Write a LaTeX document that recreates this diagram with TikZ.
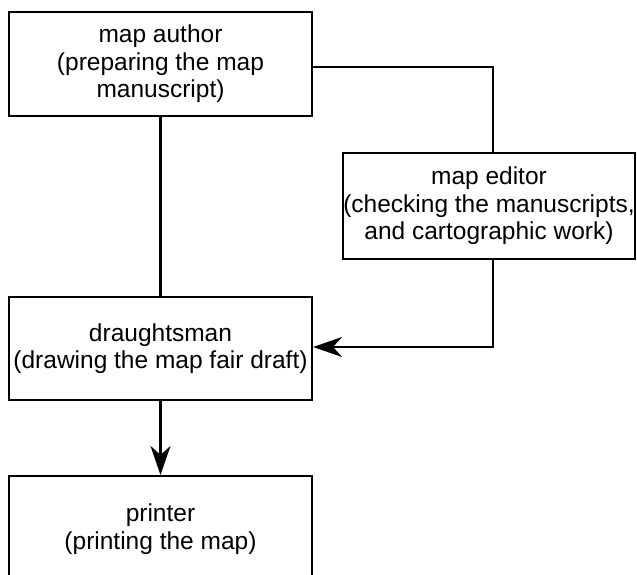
\documentclass[tikz,border=0pt]{standalone}
\usepackage{fontspec}
\setmainfont{Liberation Sans}
\usetikzlibrary{arrows.meta}
\begin{document}
\begin{tikzpicture}[x=1pt,y=-1pt,
  box/.style={draw, line width=2.1pt, rectangle, align=center,
    font=\fontsize{24.5}{27.5}\selectfont, inner sep=0pt},
  conn/.style={line width=2.1pt},
  arr/.style={conn, -{Stealth[length=29pt,width=20pt,inset=9pt]}}]
\useasboundingbox (0,0) rectangle (637,575);
\clip (0,0) rectangle (637,575);
\node[box, minimum width=303pt, minimum height=104pt] (a) at (160.5,64)
  {map author\\(preparing the map\\manuscript)};
\node[box, minimum width=292pt, minimum height=106pt] (b) at (489,206)
  {map editor\\(checking the manuscripts,\\and cartographic work)};
\node[box, minimum width=303pt, minimum height=103pt] (c) at (160.5,348.5)
  {draughtsman\\(drawing the map fair draft)};
\node[box, minimum width=303pt, minimum height=106pt] (d) at (160.5,529)
  {printer\\(printing the map)};
\coordinate (k1) at (493,67);
\coordinate (k2) at (493,347);
\draw[conn] (a.south) -- (c.north);
\draw[conn] (a.east |- k1) -- (k1) -- (k1 |- b.north);
\draw[arr] (k2 |- b.south) -- (k2) -- (c.east |- k2);
\draw[arr] (c.south) -- (d.north);
\end{tikzpicture}
\end{document}
